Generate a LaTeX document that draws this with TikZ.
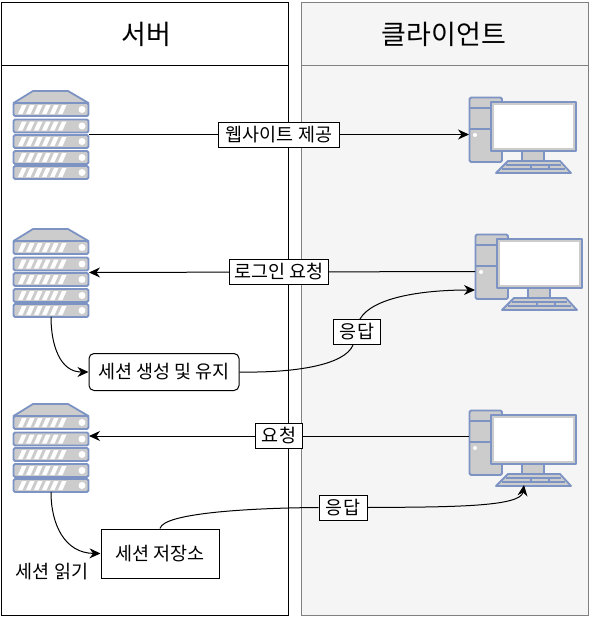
\documentclass[tikz,border=0pt]{standalone}
\usepackage{fontspec}
\setmainfont{Noto Sans CJK KR}
\usetikzlibrary{
  arrows.meta
  , calc
}
\definecolor{IconFill}{HTML}{CCCCCC}
\definecolor{IconLine}{HTML}{7C93C4}
\definecolor{ClientFill}{HTML}{F5F5F5}
\definecolor{ClientLine}{HTML}{808080}
\tikzset{
  iconpart/.style={draw=IconLine, fill=IconFill, line width=1.8pt, line join=round},
  flow/.style={-{Stealth[length=11pt,width=10pt]}, line width=1pt},
  lbl/.style={draw, fill=white, line width=1pt, inner sep=0pt, minimum height=25pt, font=\fontsize{18.5}{20}\selectfont},
  pics/server/.style={code={
    \node [minimum width=76pt, minimum height=89pt, inner sep=0pt, outer sep=0pt] (box) at (38,44.5) {};
    \draw[iconpart] (0.5,13) -- (20,1) -- (55,1) -- (75.5,13) -- cycle;
    \foreach \y in {13,29.5,45,61,76} {
      \draw[iconpart, rounded corners=1.5pt] (0.5,\y) rectangle (75.5,\y+13);
      \foreach \x in {5,13,21,29,37,45} {
        \fill[white] (\x,\y+11) -- (\x+4.5,\y+11) -- (\x+8.5,\y+2) -- (\x+4,\y+2) -- cycle;
      }
      \fill[white] (69,\y+6.5) circle (3.5pt);
    }
  }},
  pics/desktop/.style={code={
    \node [minimum width=107pt, minimum height=75pt, inner sep=0pt, outer sep=0pt] (box) at (53.5,37.5) {};
    \draw[iconpart, rounded corners=1.5pt] (0.5,0.5) rectangle (33,65);
    \draw[iconpart] (0.5,11) -- (33,11) (0.5,32) -- (33,32);
    \fill[white] (6,38) circle (2pt);
    \draw[iconpart] (53,54) rectangle (75,64);
    \draw[iconpart] (39,64) -- (91,64) -- (102,76) -- (27,76) -- cycle;
    \draw[draw=IconLine, line width=1.2pt] (37,68) -- (92,68) (33,72) -- (96,72) (62,68) -- (62,72) (80,68) -- (80,72);
    \draw[iconpart] (22,5) rectangle (107,54);
    \fill[white] (25,8) rectangle (104,51);
  }},
}
\begin{document}
\begin{tikzpicture}[x=1pt, y=-1pt]
  \useasboundingbox (0,0) rectangle (596,618);

  % panels
  \draw[line width=1pt] (1,3) rectangle (288,615);
  \draw[line width=1pt] (1,66) -- (288,66);
  \draw[draw=ClientLine, fill=ClientFill, line width=1pt] (301,3) rectangle (588,615);
  \draw[draw=ClientLine, line width=1pt] (301,66) -- (588,66);
  \node [font=\fontsize{27}{29}\selectfont] (SrvTitle) at (146,34) {서버};
  \node [font=\fontsize{27}{29}\selectfont] (CliTitle) at (444,34) {클라이언트};

  % icons
  \pic (SrvA) at (13,90) {server};
  \pic (SrvB) at (13,228) {server};
  \pic (SrvC) at (13,403) {server};
  \pic (PcA) at (469,97) {desktop};
  \pic (PcB) at (475,234) {desktop};
  \pic (PcC) at (469,410) {desktop};

  % boxes
  \node [draw, rounded corners=5pt, line width=1pt, minimum width=150pt, minimum height=37pt,
    inner sep=0pt, font=\fontsize{18.5}{20}\selectfont] (SessMake) at (164,372) {세션 생성 및 유지};
  \node [draw, line width=1pt, minimum width=118pt, minimum height=49pt,
    inner sep=0pt, font=\fontsize{18.5}{20}\selectfont] (SessStore) at (160,553.5) {세션 저장소};
  \node [font=\fontsize{18.5}{20}\selectfont, inner sep=0pt] (SessRead) at (52,572) {세션 읽기};

  % straight arrows
  \draw[flow] (SrvAbox.east) -- node[lbl, minimum width=121pt, pos=.5]{웹사이트 제공} (PcAbox.west);
  \draw[flow] (PcBbox.west) -- node[lbl, minimum width=99pt, pos=.508]{로그인 요청} (SrvBbox.east);
  \draw[flow] (PcCbox.west |- 0,436) -- node[lbl, minimum width=47pt, pos=.5]{요청} (SrvCbox.east |- 0,436);

  % curved arrows
  \draw[flow] (51,317) .. controls (51,345) and (60,372) .. (SessMake.west);
  \draw[flow] (51,492) .. controls (51,525) and (65,553) .. (SessStore.west);

  \node [lbl, minimum width=47pt] (RespA) at (357,332) {응답};
  \draw[line width=1pt] (SessMake.east) .. controls (295,373) and (345,365) .. (RespA.south -| 353,0);
  \draw[flow] (RespA.north -| 360,0) .. controls (372,298) and (420,290) .. (PcBbox.west |- 0,290);

  \node [lbl, minimum width=48pt] (RespB) at (343,507.5) {응답};
  \draw[line width=1pt] (SessStore.north) .. controls (163,513) and (250,508) .. (RespB.west);
  \draw[flow] (RespB.east) .. controls (450,507) and (521,507) .. (PcCbox.south -| 524,0);
\end{tikzpicture}
\end{document}
